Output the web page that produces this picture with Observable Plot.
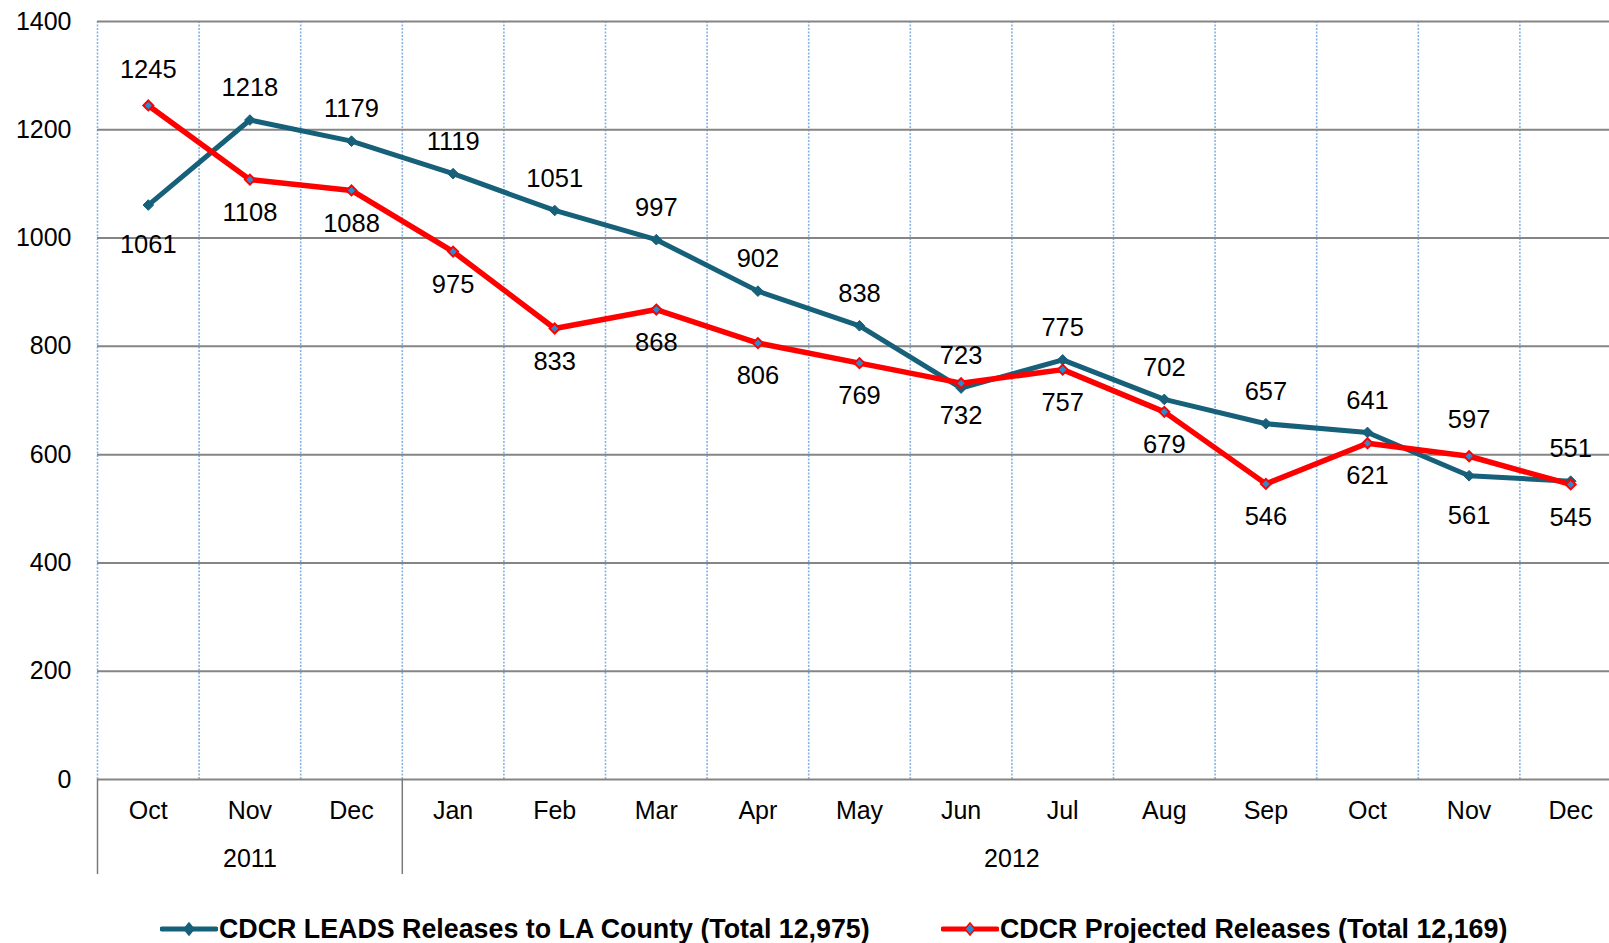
<!DOCTYPE html>
<html>
<head>
<meta charset="utf-8">
<script src="https://cdn.jsdelivr.net/npm/d3@7"></script>
<script src="https://cdn.jsdelivr.net/npm/@observablehq/plot@0.6"></script>
<style>
  html, body { margin: 0; padding: 0; background: #fff; overflow: hidden; }
  body { width: 1609px; height: 943px; position: relative; font-family: "Liberation Sans", Arial, sans-serif; }
  #chart svg { display: block; }
  .leg { position: absolute; top: 912px; height: 34px; display: flex; align-items: center; font-weight: bold; font-size: 26.8px; color: #000; white-space: nowrap; }
  .leg svg { display: block; margin-right: 1px; }
</style>
</head>
<body>
<div id="chart"></div>
<div class="leg" id="leg1" style="left:160px"></div>
<div class="leg" id="leg2" style="left:941px"></div>
<script>
// ---- data ----
const months = ["Oct","Nov","Dec","Jan","Feb","Mar","Apr","May","Jun","Jul","Aug","Sep","Oct","Nov","Dec"];
const years = ["2011", "2012"];
const monthsPerYear = [3, 12];
const leads = [1061,1218,1179,1119,1051,997,902,838,723,775,702,657,641,561,551];
const projected = [1245,1108,1088,975,833,868,806,769,732,757,679,546,621,597,545];
const yTicks = [0,200,400,600,800,1000,1200,1400];
const seriesNames = ["CDCR LEADS Releases to LA County (Total 12,975)", "CDCR Projected Releases (Total 12,169)"];
// months where the LEADS label sits below and the projected label above
const flippedLabels = [0, 13];

// ---- styles ----
const teal = "#17607a";
const red = "#ff0000";
const markerBlue = "#2a8ccf";

const rows = months.map((m, i) => ({
  i, pos: i + 0.5, month: m, leads: leads[i], projected: projected[i],
  flip: flippedLabels.includes(i)
}));

const yearStarts = monthsPerYear.map((n, k) => d3.sum(monthsPerYear.slice(0, k)));
const yearCenters = monthsPerYear.map((n, k) => yearStarts[k] + n / 2);
const boundaries = d3.range(0, months.length + 1);

const chart = Plot.plot({
  width: 1609,
  height: 900,
  marginLeft: 97,
  marginRight: 0,
  marginTop: 21,
  marginBottom: 121,
  style: { fontFamily: "Liberation Sans, Arial, sans-serif", fontSize: "25px", color: "#000", background: "transparent", overflow: "hidden" },
  x: { type: "linear", domain: [0, months.length], range: [97, 1621], axis: null },
  y: { domain: [0, 1400], range: [779, 21], axis: null },
  marks: [
    // vertical light-blue dashed gridlines at month boundaries
    Plot.ruleX(boundaries, { y1: 0, y2: 1400, stroke: "#86b3e4", strokeWidth: 1.6, strokeDasharray: "2,1.5" }),
    // horizontal gridlines
    Plot.ruleY(yTicks, { stroke: "#858585", strokeWidth: 2 }),
    // y axis labels
    Plot.axisY(yTicks, { tickSize: 0, tickPadding: 26, fontSize: 25, label: null, tickFormat: d => String(d) }),
    // month labels
    Plot.axisX(rows.map(d => d.pos), { tickSize: 0, tickPadding: 22, fontSize: 25, label: null, tickFormat: d => months[Math.floor(d)] }),
    // year labels
    Plot.axisX(yearCenters, { tickSize: 0, tickPadding: 70, fontSize: 25, label: null, tickFormat: (d) => years[yearCenters.indexOf(d)] }),
    // year separators
    Plot.axisX(yearStarts, { tickSize: 95, stroke: "#7a7a7a", strokeWidth: 1.5, label: null, tickFormat: () => "" }),
    // lines
    Plot.line(rows, { x: "pos", y: "leads", stroke: teal, strokeWidth: 5 }),
    Plot.line(rows, { x: "pos", y: "projected", stroke: red, strokeWidth: 5.5 }),
    Plot.dot(rows, { x: "pos", y: "leads", symbol: "diamond2", r: 4.8, fill: teal, stroke: teal, strokeWidth: 1 }),
    Plot.dot(rows, { x: "pos", y: "projected", symbol: "diamond2", r: 4.5, fill: markerBlue, stroke: red, strokeWidth: 2 }),
    // data labels
    Plot.text(rows.filter(d => !d.flip), { x: "pos", y: "leads", text: d => String(d.leads), dy: -32, fontSize: 25.5, fill: "#000" }),
    Plot.text(rows.filter(d => d.flip), { x: "pos", y: "leads", text: d => String(d.leads), dy: 40, fontSize: 25.5, fill: "#000" }),
    Plot.text(rows.filter(d => !d.flip), { x: "pos", y: "projected", text: d => String(d.projected), dy: 33, fontSize: 25.5, fill: "#000" }),
    Plot.text(rows.filter(d => d.flip), { x: "pos", y: "projected", text: d => String(d.projected), dy: -36, fontSize: 25.5, fill: "#000" })
  ]
});
document.getElementById("chart").appendChild(chart);

// ---- legend ----
function swatch(color, fill) {
  const ns = "http://www.w3.org/2000/svg";
  const s = document.createElementNS(ns, "svg");
  s.setAttribute("width", 58); s.setAttribute("height", 20);
  const l = document.createElementNS(ns, "line");
  l.setAttribute("x1", 2); l.setAttribute("x2", 56); l.setAttribute("y1", 10); l.setAttribute("y2", 10);
  l.setAttribute("stroke", color); l.setAttribute("stroke-width", 5); l.setAttribute("stroke-linecap", "round");
  s.appendChild(l);
  const p = document.createElementNS(ns, "path");
  p.setAttribute("d", "M29,4 L34,10 L29,16 L24,10 Z");
  p.setAttribute("fill", fill); p.setAttribute("stroke", color); p.setAttribute("stroke-width", 1.5);
  s.appendChild(p);
  return s;
}
const leg1 = document.getElementById("leg1");
leg1.appendChild(swatch(teal, teal));
leg1.appendChild(document.createTextNode(seriesNames[0]));
const leg2 = document.getElementById("leg2");
leg2.appendChild(swatch(red, markerBlue));
leg2.appendChild(document.createTextNode(seriesNames[1]));
</script>
</body>
</html>
